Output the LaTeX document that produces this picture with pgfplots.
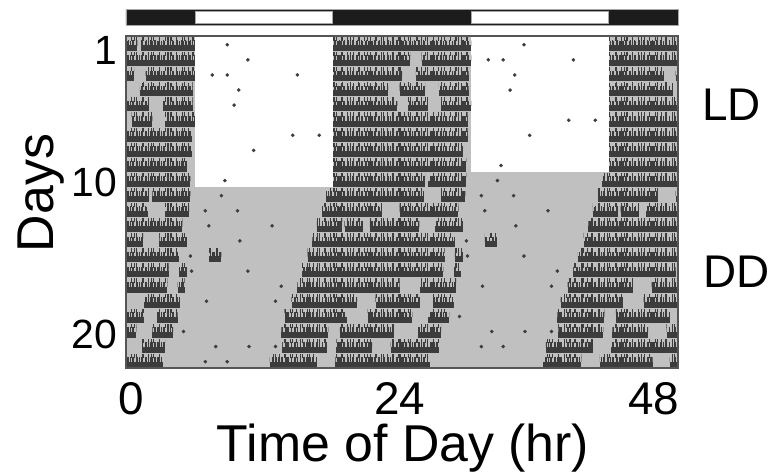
\documentclass[border=0pt]{standalone}
\usepackage{pgfplots}
\pgfplotsset{compat=1.18}
\usepackage{fontspec}
\setmainfont{Liberation Sans}
\usetikzlibrary{patterns.meta}
\definecolor{bggray}{RGB}{192,192,192}
\definecolor{act}{RGB}{60,60,60}
\definecolor{framec}{RGB}{85,85,85}
\definecolor{barblack}{RGB}{28,28,28}
\pgfplotsset{
  act0/.style={fill=act, draw=none},
  act1/.style={draw=none, pattern={Lines[angle=90,distance=3.1bp,line width=1.3bp]}, pattern color=act},
  act1b/.style={draw=none, pattern={Lines[angle=90,distance=4.4bp,line width=1.2bp,xshift=1bp]}, pattern color=act},
  act2/.style={draw=none, pattern={Lines[angle=90,distance=5.7bp,line width=1.1bp]}, pattern color=act},
  act2b/.style={draw=none, pattern={Lines[angle=90,distance=8.3bp,line width=1.1bp,xshift=2bp]}, pattern color=act},
}
\newcommand\actblock[3]{%
  \pgfmathsetmacro\yA{#3}%
  \pgfmathsetmacro\yB{#3-0.40}%
  \pgfmathsetmacro\yC{#3-0.68}%
  \pgfmathsetmacro\yD{#3-0.90}%
  \edef\temp{\noexpand\addplot[act0] coordinates {(#1,\yA) (#2,\yA) (#2,\yB) (#1,\yB)};
    \noexpand\addplot[act1] coordinates {(#1,\yB) (#2,\yB) (#2,\yC) (#1,\yC)};
    \noexpand\addplot[act1b] coordinates {(#1,\yB) (#2,\yB) (#2,\yC) (#1,\yC)};
    \noexpand\addplot[act2] coordinates {(#1,\yC) (#2,\yC) (#2,\yD) (#1,\yD)};
    \noexpand\addplot[act2b] coordinates {(#1,\yC) (#2,\yC) (#2,\yD) (#1,\yD)};}%
  \temp}
\begin{document}
\begin{tikzpicture}
\path[use as bounding box] (-126bp,-105bp) rectangle (642bp,368bp);
\begin{axis}[
  at={(0,0)}, anchor=south west,
  width=552bp, height=332bp, scale only axis,
  xmin=0, xmax=48, ymin=0, ymax=22, y dir=reverse,
  clip=false, axis on top,
  axis line style={framec, line width=1.6bp},
  axis background/.style={fill=bggray},
  xtick={0.43,23.8,45.9}, xticklabels={0,24,48},
  ytick={0.93,9.73,19.8}, yticklabels={1,10,20},
  major tick length=0pt,
  xticklabel style={font=\fontsize{46}{50}\selectfont, anchor=base, inner sep=0pt, yshift=-46bp},
  yticklabel style={font=\fontsize{41}{45}\selectfont, anchor=east, inner sep=0pt, xshift=-9bp},
  xlabel={Time of Day (hr)},
  ylabel={Days},
  label style={font=\fontsize{52}{56}\selectfont},
  xlabel style={at={(axis description cs:0.502,-0.283)}, anchor=base, inner sep=0pt},
  ylabel style={at={(axis description cs:-0.132,0.527)}, anchor=base, inner sep=0pt},
]
% light phases (LD)
\addplot[fill=white, draw=none] coordinates {(6,0) (18,0) (18,10) (6,10)};
\addplot[fill=white, draw=none] coordinates {(30,0) (42,0) (42,9) (30,9)};
% LD bar on top
\addplot[fill=barblack, draw=gray!70, line width=0.8bp] coordinates {(0,-1.77) (48,-1.77) (48,-0.73) (0,-0.73) (0,-1.77)};
\addplot[fill=white, draw=gray!70, line width=0.6bp] coordinates {(6.05,-1.64) (17.95,-1.64) (17.95,-0.84) (6.05,-0.84) (6.05,-1.64)};
\addplot[fill=white, draw=gray!70, line width=0.6bp] coordinates {(30.05,-1.64) (41.95,-1.64) (41.95,-0.84) (30.05,-0.84) (30.05,-1.64)};
% activity bouts: day/start/end (hours), double plotted
\foreach \d/\a/\b in {
 1/0/1.0, 1/1.3/6.0, 1/18/24,
 2/0/6.0, 2/18/24,
 3/0/0.7, 3/1.7/6.0, 3/18/24,
 4/1.2/5.8, 4/18/22.8, 4/23.8/24,
 5/0/2.0, 5/3.2/5.8, 5/18/23.6,
 6/0.5/2.3, 6/3.4/6.0, 6/18/24,
 7/0/5.7, 7/18/24,
 8/0/5.7, 8/18/24,
 9/0/5.3, 9/18/24,
 10/0/5.6, 10/18/24,
 11/0/2.0, 11/2.3/5.6, 11/17.4/24,
 12/0/1.9, 12/3.4/5.5, 12/17.0/22.3, 12/23.8/24,
 13/0/4.9, 13/16.6/18.8, 13/19.0/20.6, 13/21.2/24,
 14/0/1.5, 14/2.9/5.3, 14/16.2/24,
 15/0/4.6, 15/7.2/8.3, 15/15.8/24,
 16/0/3.7, 16/4.6/5.3, 16/15.3/24,
 17/0/3.6, 17/4.5/5.1, 17/14.9/23.8,
 18/1.6/4.7, 18/14.4/20.1, 18/21.7/24,
 19/0/1.6, 19/2.7/4.5, 19/13.8/19.2, 19/21.0/24,
 20/0/0.9, 20/2.3/4.1, 20/13.5/17.6, 20/18.6/23.3,
 21/1.4/3.4, 21/13.6/17.5, 21/18.3/21.4, 21/23.0/24,
 22/0/3.2, 22/12.5/16.6, 22/18.2/24,
 23/0/2.4, 23/12.3/15.6, 23/17.2/21.8, 23/23.3/24}{
  \ifnum\d<23 \actblock{\a}{\b}{\d}\fi
  \ifnum\d>1
    \pgfmathsetmacro\ra{\a+24}\pgfmathsetmacro\rb{\b+24}\pgfmathtruncatemacro\rr{\d-1}%
    \actblock{\ra}{\rb}{\rr}%
  \fi
}
% sporadic counts
\addplot[only marks, mark=*, mark size=1.6bp, color=act] coordinates {
 (8.8,0.58) (10.6,1.58) (7.5,2.58) (8.8,2.58) (14.9,2.58) (9.8,3.58) (9.4,4.58)
 (14.5,6.58) (16.8,6.58) (11.1,7.58) (8.6,9.58) (8.3,10.58) (6.9,11.58) (9.7,11.58)
 (7.2,12.58) (12.7,12.58) (9.9,13.58) (5.6,14.58) (5.7,15.58) (10.6,15.58) (13.5,16.58)
 (7.0,17.58) (13.0,17.58) (5.0,19.58) (7.8,20.58) (10.7,20.58) (13.0,20.58) (6.9,21.58) (8.8,21.58)};
\addplot[only marks, mark=*, mark size=1.6bp, color=act] coordinates {
 (34.6,0.58) (31.5,1.58) (32.8,1.58) (38.9,1.58) (33.8,2.58) (33.4,3.58) (38.5,5.58) (40.8,5.58)
 (35.1,6.58) (32.6,8.58) (32.3,9.58) (30.9,10.58) (33.7,10.58) (31.2,11.58) (36.7,11.58)
 (33.9,12.58) (29.6,13.58) (29.7,14.58) (34.6,14.58) (37.5,15.58) (31.0,16.58) (37.0,16.58)
 (29.0,18.58) (31.8,19.58) (34.7,19.58) (37.0,19.58) (30.9,20.58) (32.8,20.58)};
\end{axis}
\node[anchor=west, inner sep=0pt, font=\fontsize{46}{50}\selectfont] at (576bp,263bp) {LD};
\node[anchor=west, inner sep=0pt, font=\fontsize{46}{50}\selectfont] at (577bp,96bp) {DD};
\end{tikzpicture}
\end{document}
